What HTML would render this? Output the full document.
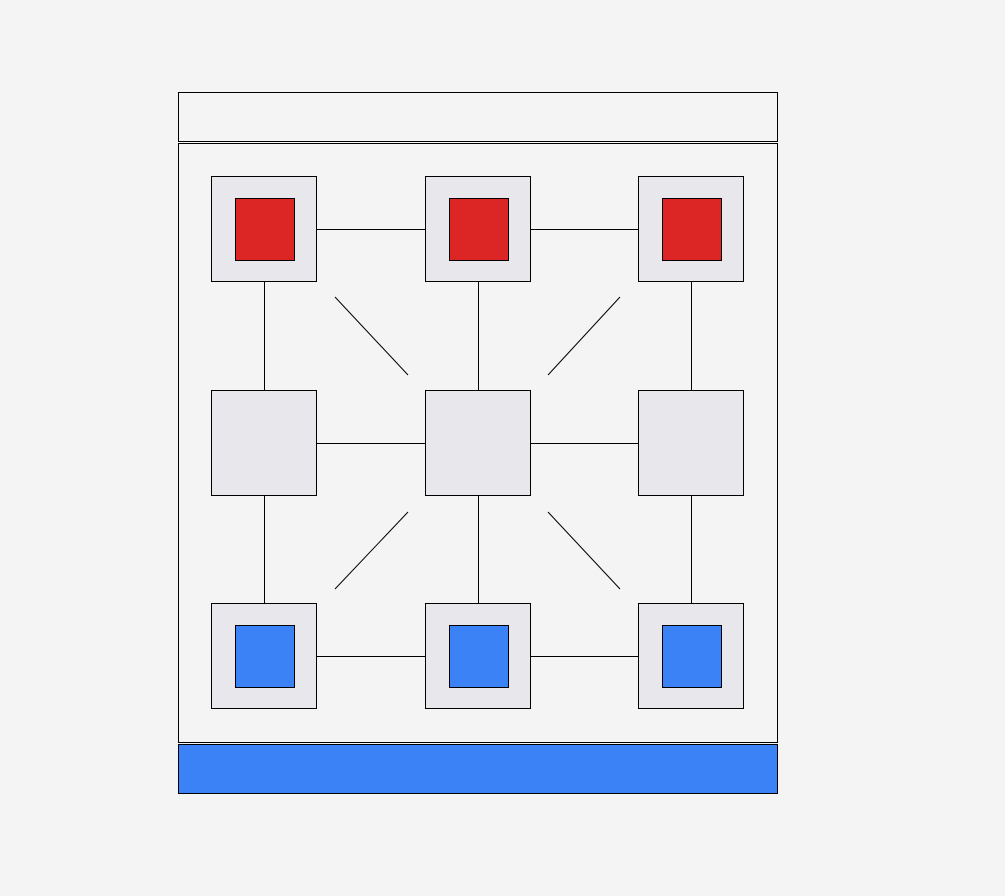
<!DOCTYPE html>
<html><head><meta charset="utf-8"><style>
html,body{margin:0;padding:0;background:#f4f4f4;}
svg{display:block;}
</style></head><body>
<svg id="board" width="1005" height="896" viewBox="0 0 1005 896" xmlns="http://www.w3.org/2000/svg">
<rect x="178.5" y="92.5" width="599" height="49" fill="#f4f4f4" stroke="#000" stroke-width="1"/>
<rect x="178.5" y="143.5" width="599" height="599" fill="#f4f4f4" stroke="#000" stroke-width="1"/>
<rect x="178.5" y="744.5" width="599" height="49" fill="#3b82f6" stroke="#000" stroke-width="1"/>
<g id="lines"></g>
<g id="cells"></g>
</svg>
<script>
const pieces = [
  ['red','red','red'],
  [null,null,null],
  ['blue','blue','blue']
];
const colX = [211, 425, 638];
const rowY = [176, 390, 603];
const cellSize = 106;
const colors = {red:'#dc2626', blue:'#3b82f6'};
const NS='http://www.w3.org/2000/svg';
const lines=document.getElementById('lines');
const cells=document.getElementById('cells');
function ln(x1,y1,x2,y2,name){
  const l=document.createElementNS(NS,'line');
  l.setAttribute('x1',x1);l.setAttribute('y1',y1);l.setAttribute('x2',x2);l.setAttribute('y2',y2);
  l.setAttribute('stroke','#000');l.setAttribute('stroke-width','1');
  
  
  lines.appendChild(l);
}
const cx=i=>colX[i]+cellSize/2, cy=j=>rowY[j]+cellSize/2;
for(let r=0;r<3;r++)for(let c=0;c<2;c++) ln(colX[c]+cellSize,cy(r)+0.5,colX[c+1],cy(r)+0.5,'connector-line');
for(let c=0;c<3;c++)for(let r=0;r<2;r++) ln(cx(c)+0.5,rowY[r]+cellSize,cx(c)+0.5,rowY[r+1],'connector-line');
ln(335,297,408,375,'diagonal-line');ln(620,297,548,375,'diagonal-line');
ln(408,512,335,589,'diagonal-line');ln(548,512,620,589,'diagonal-line');
for(let r=0;r<3;r++)for(let c=0;c<3;c++){
  const s=document.createElementNS(NS,'rect');
  s.setAttribute('x',colX[c]+0.5);s.setAttribute('y',rowY[r]+0.5);
  s.setAttribute('width',cellSize-1);s.setAttribute('height',cellSize-1);
  s.setAttribute('fill','#e8e8ec');s.setAttribute('stroke','#000');
  
  
  cells.appendChild(s);
  const p=pieces[r][c];
  if(p){
    const q=document.createElementNS(NS,'rect');
    q.setAttribute('x',colX[c]+24.5);q.setAttribute('y',rowY[r]+22.5);
    q.setAttribute('width',59);q.setAttribute('height',62);
    q.setAttribute('fill',colors[p]);q.setAttribute('stroke','#000');
    
    
    cells.appendChild(q);
  }
}
</script>
</body></html>
